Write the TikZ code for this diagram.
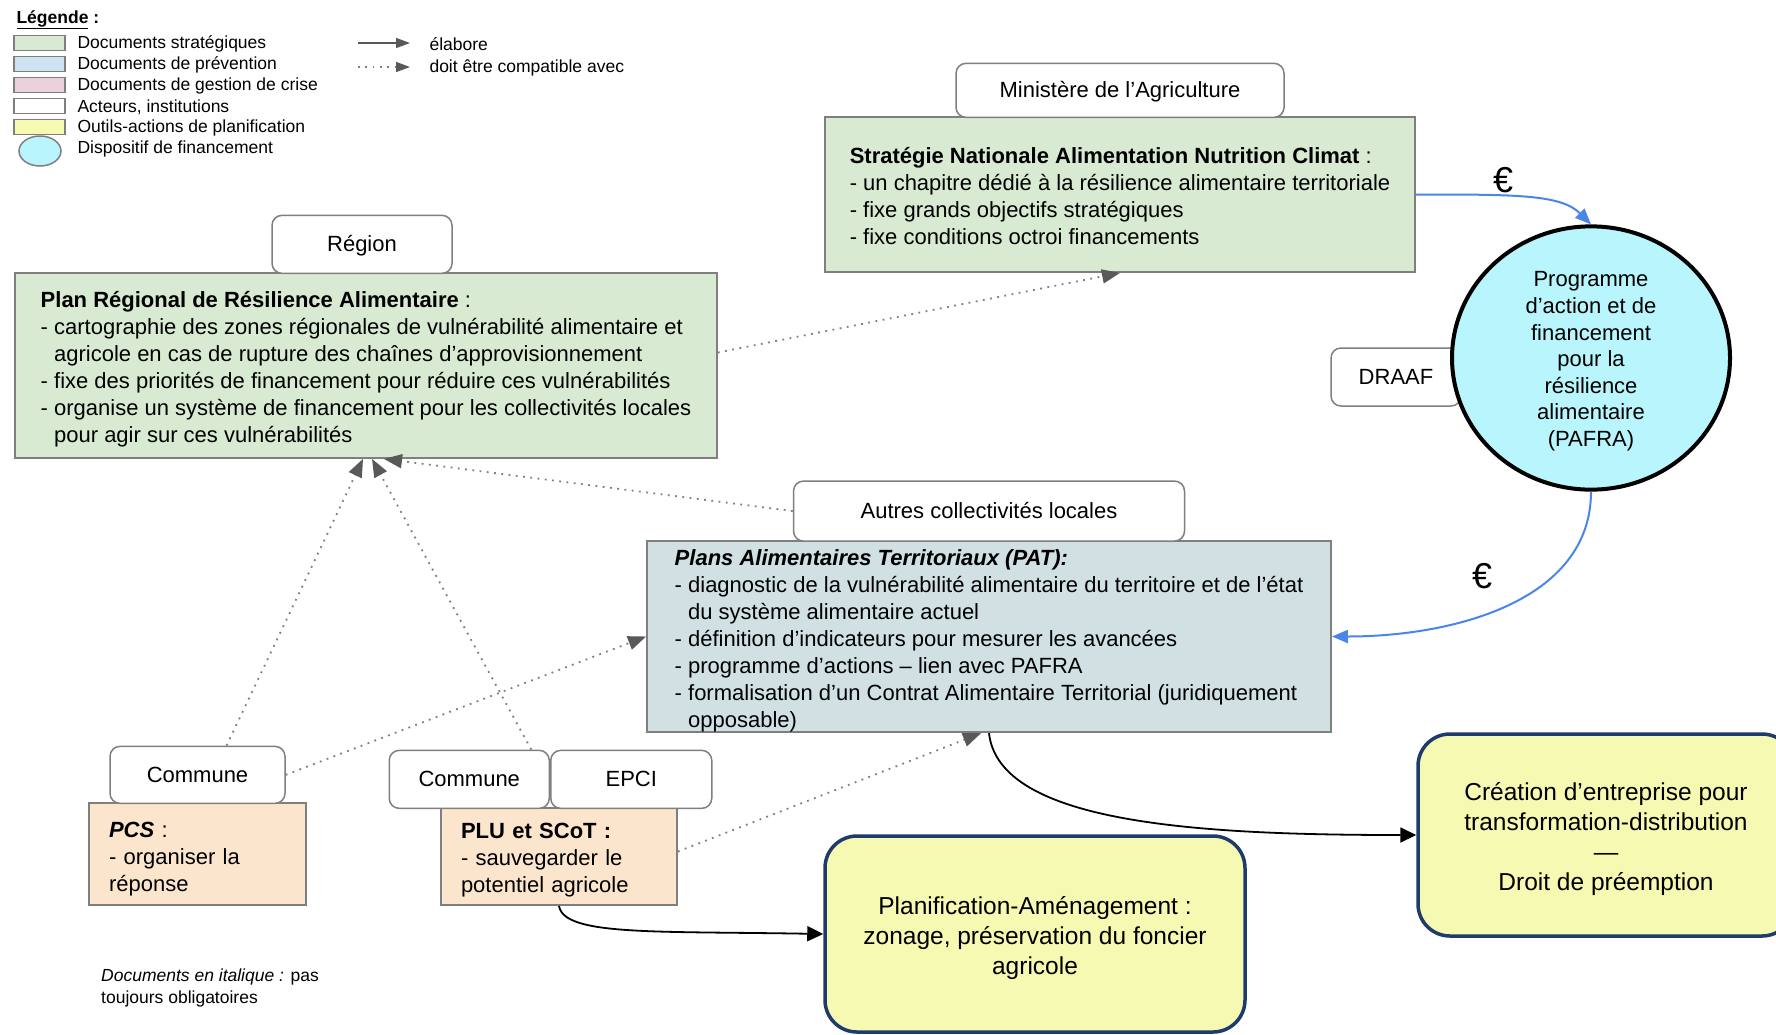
\documentclass[tikz,border=0pt]{standalone}
\usepackage{fontspec}
\setmainfont{Liberation Sans}
\usetikzlibrary{positioning,shapes.geometric,arrows.meta}

\definecolor{vertdoc}{HTML}{D9EAD3}
\definecolor{bleudoc}{HTML}{CFE2F3}
\definecolor{rosedoc}{HTML}{EAD1DC}
\definecolor{jauneoutil}{HTML}{F5F9B2}
\definecolor{patdoc}{HTML}{D0E0E3}
\definecolor{peche}{HTML}{FCE5CD}
\definecolor{cyanfin}{HTML}{B8F5FC}
\definecolor{marine}{HTML}{1F3B6B}
\definecolor{bord}{HTML}{7F7F7F}
\definecolor{pointe}{HTML}{595959}
\definecolor{bleuflux}{HTML}{4A86E8}

\newcommand{\retrait}{\hspace*{0.61em}}
\newcommand{\haut}[1]{\rule{0pt}{#1pt}}

\begin{document}
\begin{tikzpicture}[
		x=1pt, y=-1pt,
		every node/.style={font=\fontsize{22}{27}\selectfont},
		acteur/.style={draw=bord, line width=1.5pt, fill=white, rounded corners=10pt, inner sep=0pt, text height=15pt, text depth=0pt},
		document/.style={draw=bord, line width=1.8pt, align=left, inner sep=0pt},
		outil/.style={draw=marine, line width=3.5pt, fill=jauneoutil, rounded corners=32pt, align=center, inner sep=0pt, font=\fontsize{24.5}{29.8}\selectfont},
		financement/.style={ellipse, draw=black, line width=4pt, fill=cyanfin, align=center, inner sep=0pt, font=\fontsize{22}{26.6}\selectfont},
		compatible/.style={draw=bord, line width=1.8pt, dash pattern=on 1.8pt off 5.5pt, -{Triangle[length=18pt,width=14pt,color=pointe]}},
		elabore/.style={draw=black, line width=1.8pt, -{Triangle[length=16pt,width=15pt]}},
		flux/.style={draw=bleuflux, line width=2pt, -{Triangle[length=16pt,width=13pt]}},
		legende/.style={anchor=west, font=\fontsize{17.5}{20}\selectfont},
		pastille/.style={draw=bord, line width=1.5pt, minimum width=51pt, minimum height=15pt, inner sep=0pt},
		euro/.style={font=\fontsize{36}{36}\selectfont}
		]
		
		\clip (0,0) rectangle (1776,1034);
		\fill[white] (0,0) rectangle (1776,1034);
		
		% legende
		\node[anchor=west, font=\fontsize{17.5}{20}\selectfont\bfseries] (titre) at (13,20) {\underline{Légende} :};
		\node[pastille, fill=vertdoc] (p1) at (39.5,43) {};
		\node[legende] (l1) at (74,44) {Documents stratégiques};
		\node[pastille, fill=bleudoc] (p2) at (39.5,64) {};
		\node[legende] (l2) at (74,65) {Documents de prévention};
		\node[pastille, fill=rosedoc] (p3) at (39.5,85) {};
		\node[legende] (l3) at (74,86) {Documents de gestion de crise};
		\node[pastille, fill=white] (p4) at (39.5,106) {};
		\node[legende] (l4) at (74,107) {Acteurs, institutions};
		\node[pastille, fill=jauneoutil] (p5) at (39.5,127) {};
		\node[legende] (l5) at (74,128) {Outils-actions de planification};
		\node[ellipse, draw=bord, line width=1.5pt, fill=cyanfin, minimum width=42pt, minimum height=30pt, inner sep=0pt] (p6) at (40,151) {};
		\node[legende] (l6) at (74,149) {Dispositif de financement};
		
		\coordinate (e1) at (358,43);
		\coordinate (e2) at (410,43);
		\draw[draw=pointe, line width=1.5pt, -{Triangle[length=14pt,width=10pt]}] (e1) -- (e2);
		\node[legende] (l7) at (426,44) {élabore};
		\coordinate (c1) at (358,67);
		\coordinate (c2) at (410,67);
		\draw[compatible, line width=1.5pt, -{Triangle[length=14pt,width=10pt,color=pointe]}] (c1) -- (c2);
		\node[legende] (l8) at (426,68) {doit être compatible avec};
		
		% documents
		\node[document, fill=vertdoc, minimum width=590pt, minimum height=155pt] (snanc) at (1120,194.5)
		{\haut{19}\textbf{Stratégie Nationale Alimentation Nutrition Climat} :\\- un chapitre dédié à la résilience alimentaire territoriale\\- fixe grands objectifs stratégiques\\- fixe conditions octroi financements};
		\node[acteur, minimum width=328pt, minimum height=54pt, above=-2pt of snanc] (ministere) {Ministère de l’Agriculture};
		
		\node[document, fill=vertdoc, minimum width=702pt, minimum height=185pt] (prra) at (366,365.5)
		{\haut{23}\textbf{Plan Régional de Résilience Alimentaire} :\\- cartographie des zones régionales de vulnérabilité alimentaire et\\\retrait agricole en cas de rupture des chaînes d’approvisionnement\\- fixe des priorités de financement pour réduire ces vulnérabilités\\- organise un système de financement pour les collectivités locales\\\retrait pour agir sur ces vulnérabilités};
		\node[acteur, minimum width=180pt, minimum height=58pt, above=-2pt of prra, xshift=-4pt] (region) {Région};
		
		\node[acteur, minimum width=130pt, minimum height=58pt] (draaf) at (1396,377) {DRAAF};
		\node[financement, minimum width=278pt, minimum height=248pt] (pafra) at (1591,358)
		{\haut{22}Programme\\d’action et de\\financement\\pour la\\résilience\\alimentaire\\(PAFRA)};
		
		\node[document, fill=patdoc, minimum width=684pt, minimum height=185pt] (pat) at (989,636.5)
		{\haut{25}\textbf{\textit{Plans Alimentaires Territoriaux (PAT):}}\\- diagnostic de la vulnérabilité alimentaire du territoire et de l’état\\\retrait du système alimentaire actuel\\- définition d’indicateurs pour mesurer les avancées\\- programme d’actions – lien avec PAFRA\\- formalisation d’un Contrat Alimentaire Territorial (juridiquement\\\retrait opposable)};
		\node[acteur, minimum width=391pt, minimum height=60pt, above=-2pt of pat] (autres) {Autres collectivités locales};
		
		\node[document, fill=peche, text width=177pt, minimum width=217pt, minimum height=102pt] (pcs) at (197.5,854)
		{\haut{25}\textbf{\textit{PCS}} :\\- organiser la\\réponse};
		\node[acteur, minimum width=175pt, minimum height=57pt, above=-2pt of pcs] (commune1) {Commune};
		
		\node[document, fill=peche, text width=196pt, minimum width=236pt, minimum height=97pt] (plu) at (559,856.5)
		{\haut{22}\textbf{PLU et SCoT :}\\- sauvegarder le\\potentiel agricole};
		\node[acteur, minimum width=160pt, minimum height=58pt, anchor=south east] (commune2) at ([xshift=-9pt, yshift=-2pt]plu.north) {Commune};
		\node[acteur, minimum width=161pt, minimum height=58pt, right=0pt of commune2] (epci) {EPCI};
		
		% outils
		\node[outil, minimum width=420pt, minimum height=196pt] (planif) at (1035,934)
		{\haut{26}Planification-Aménagement :\\zonage, préservation du foncier\\agricole};
		\node[outil, minimum width=376pt, minimum height=202pt] (creation) at (1606,835)
		{\haut{26}Création d’entreprise pour\\transformation-distribution\\—\\Droit de préemption};
		
		% liens
		\draw[compatible] ([yshift=13pt]prra.east) -- (snanc.south);
		\draw[compatible] ([xshift=29pt]commune1.north) -- ([xshift=-3pt]prra.south);
		\draw[compatible] ([xshift=62pt]commune2.north) -- ([xshift=6pt]prra.south);
		\draw[compatible] (autres.west) -- ([xshift=18pt]prra.south);
		\draw[compatible] (commune1.east) -- (pat.west);
		\draw[compatible] ([yshift=5pt]plu.east) -- ([xshift=-8pt]pat.south);
		
		\draw[elabore] (pat.south) .. controls +(10,90) and +(-220,0) .. (creation.west);
		\draw[elabore] (plu.south) .. controls +(5,30) and +(-170,-3) .. (planif.west);
		
		\draw[flux] (snanc.east) .. controls +(100,0) and +(-30,-30) .. (pafra.north);
		\draw[flux] (pafra.south) .. controls +(0,110) and +(120,0) .. (pat.east);
		\node[euro] (euro1) at (1503,180) {€};
		\node[euro] (euro2) at (1482,576) {€};
		
		\node[anchor=north west, align=left, inner sep=0pt, font=\fontsize{17.5}{22}\selectfont] (note) at (101,969)
		{\textit{Documents en italique :} pas\\toujours obligatoires};
		
	\end{tikzpicture}
\end{document}
